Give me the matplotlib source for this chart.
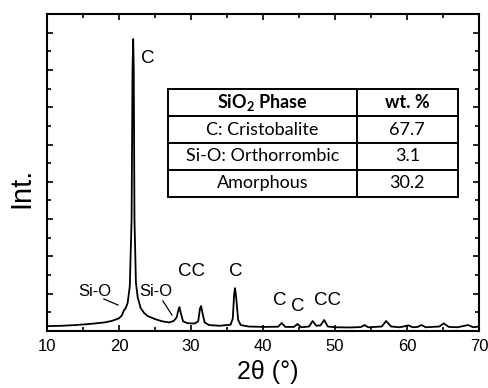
import matplotlib
matplotlib.use('Agg')
import matplotlib.pyplot as plt
from matplotlib.ticker import MultipleLocator

plt.rcParams['font.family'] = ['Liberation Sans', 'DejaVu Sans']
plt.rcParams['mathtext.fontset'] = 'custom'
plt.rcParams['mathtext.rm'] = 'Lato'
plt.rcParams['mathtext.bf'] = 'Lato:bold'

# XRD pattern (2theta in degrees, intensity in counts)
two_theta = [10, 12, 14, 16, 18, 19, 20, 20.4, 20.7, 20.9, 21.2, 21.5, 21.75, 21.88, 21.97,
             22.05, 22.15, 22.35, 22.6, 23.0, 23.5, 24.0, 25.0, 26.0, 27.0, 27.6, 28.0,
             28.25, 28.4, 28.6, 28.9, 29.5, 30.5, 31.0, 31.25, 31.4, 31.6, 31.9, 32.5,
             34.0, 35.5, 35.8, 36.0, 36.12, 36.3, 36.55, 36.9, 38.0, 40.0, 42.1, 42.6,
             43.1, 44.3, 44.8, 45.3, 46.4, 46.9, 47.4, 48.0, 48.5, 49.0, 50.0, 52.0,
             53.6, 54.1, 54.6, 56.5, 57.1, 57.8, 59.0, 60.2, 60.8, 61.5, 62.0, 62.6,
             64.5, 65.1, 65.8, 67.0, 68.5, 69.2, 70.0]
intensity = [130, 140, 160, 190, 230, 270, 340, 420, 560, 600, 750, 1200, 3000, 7000, 7830,
             7000, 3000, 1300, 900, 620, 480, 400, 320, 260, 230, 270, 360,
             560, 640, 470, 260, 210, 200, 260, 600, 670, 480, 230, 160,
             140, 170, 330, 1000, 1150, 850, 300, 160, 120, 110, 115, 214,
             110, 110, 188, 100, 120, 268, 140, 150, 295, 120, 100, 95,
             105, 160, 100, 120, 268, 120, 100, 150, 100, 110, 160, 100,
             120, 205, 110, 100, 160, 100, 120]

# peak labels
label_text = ['C', 'CC', 'C', 'C', 'C', 'CC']
label_x = [24.0, 30.1, 36.25, 42.36, 44.86, 48.9]
label_y = [7316, 1608, 1608, 831, 670, 831]

sio_x = [16.67, 25.1]
sio_y = [1072, 1072]
sio_line_x = [(17.9, 19.86), (26.1, 27.36)]
sio_line_y = [(858, 697), (804, 429)]

phases = ['C: Cristobalite', 'Si-O: Orthorrombic', 'Amorphous']
wt_pct = ['67.7', '3.1', '30.2']

fig = plt.figure(figsize=(4.89, 3.88), dpi=100)
ax = fig.add_axes([0.0961, 0.1469, 0.8834, 0.817])

ax.plot(two_theta, intensity, color='black', lw=1.3)

for t, x, y in zip(label_text, label_x, label_y):
    ax.text(x, y, t, fontsize=13.5, ha='center', va='center')
for x, y in zip(sio_x, sio_y):
    ax.text(x, y, 'Si-O', fontsize=12, ha='center', va='center')
for lx, ly in zip(sio_line_x, sio_line_y):
    ax.plot(lx, ly, color='black', lw=0.9)

ax.set_xlim(10, 70)
ax.set_ylim(0, 8500)
ax.xaxis.set_major_locator(MultipleLocator(10))
ax.xaxis.set_minor_locator(MultipleLocator(5))
ax.yaxis.set_major_locator(MultipleLocator(1000))
ax.yaxis.set_minor_locator(MultipleLocator(500))
ax.tick_params(which='both', direction='in', top=True, right=True, width=1.2)
ax.tick_params(which='major', length=4, labelsize=12, pad=6)
ax.tick_params(which='minor', length=3)
ax.tick_params(axis='y', labelleft=False)
for s in ax.spines.values():
    s.set_linewidth(1.5)

fig.text(268 / 489, 1 - 372 / 388, '2θ (°)', fontsize=18, ha='center', va='center')
fig.text(21 / 489, 1 - 188 / 388, 'Int.', fontsize=21, rotation=90, ha='center', va='center')

cells = [[p, w] for p, w in zip(phases, wt_pct)]
tbl = ax.table(cellText=cells, colLabels=[r'SiO$_\mathbf{2}$ Phase', 'wt. %'],
               colWidths=[0.652, 0.348], cellLoc='center',
               bbox=[0.280, 0.423, 0.671, 0.340])
tbl.auto_set_font_size(False)
for (r, c), cell in tbl.get_celld().items():
    cell.set_linewidth(1.4)
    cell.set_facecolor('white')
    cell.get_text().set_fontsize(13)
    cell.get_text().set_fontfamily('Lato')
    if r == 0:
        cell.get_text().set_fontweight('bold')

fig.savefig('out.png', dpi=100)
